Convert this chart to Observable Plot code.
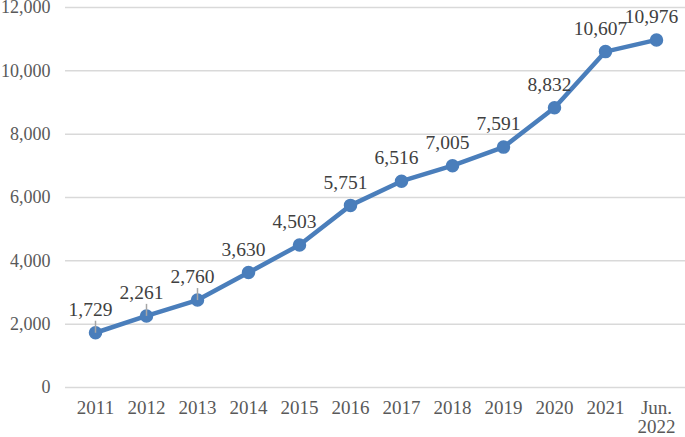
<!DOCTYPE html>
<html>
<head>
<meta charset="utf-8">
<script src="https://cdn.jsdelivr.net/npm/d3@7"></script>
<script src="https://cdn.jsdelivr.net/npm/@observablehq/plot@0.6"></script>
<style>
  html, body { margin: 0; padding: 0; background: #fff; }
  #chart svg { display: block; }
</style>
</head>
<body>
<div id="chart"></div>
<script>
const years = ["2011","2012","2013","2014","2015","2016","2017","2018","2019","2020","2021","Jun.\n2022"];
const values = [1729, 2261, 2760, 3630, 4503, 5751, 6516, 7005, 7591, 8832, 10607, 10976];
const yTicks = [0, 2000, 4000, 6000, 8000, 10000, 12000];
const leaderCount = 3; // first three labels carry small leader lines

const data = years.map((y, i) => ({year: y, value: values[i], i}));
const fmt = d3.format(",");

const chart = Plot.plot({
  width: 685,
  height: 437,
  marginLeft: 65,
  marginRight: 0,
  marginTop: 7,
  marginBottom: 50,
  style: {fontFamily: "'Liberation Serif', 'Times New Roman', serif", fontSize: "19px", background: "#fff"},
  x: {type: "point", domain: years, padding: 0.5},
  y: {domain: [0, 12000]},
  marks: [
    Plot.gridY(yTicks, {stroke: "#d9d9d9", strokeOpacity: 1, strokeWidth: 1.5}),
    Plot.axisY(yTicks, {tickSize: 0, tickPadding: 15, tickFormat: fmt, fill: "#595959", fontSize: 18, label: null}),
    Plot.axisX({tickSize: 0, tickPadding: 13, fill: "#595959", fontSize: 19, lineHeight: 1.0, label: null}),
    Plot.line(data, {x: "year", y: "value", stroke: "#4a7ebb", strokeWidth: 4.5}),
    Plot.dot(data, {x: "year", y: "value", r: 6, fill: "#4a7ebb", stroke: "#4a7ebb"}),
    Plot.link(data.filter(d => d.i < leaderCount), {
      x1: "year", x2: "year",
      y1: "value", y2: d => d.value + 380,
      stroke: "#a6a6a6", strokeWidth: 1.5
    }),
    Plot.text(data, {x: "year", y: "value", text: d => fmt(d.value), dy: -23, dx: -5,
      fill: "#404040", fontSize: 19.5})
  ]
});
document.getElementById("chart").appendChild(chart);
</script>
</body>
</html>
